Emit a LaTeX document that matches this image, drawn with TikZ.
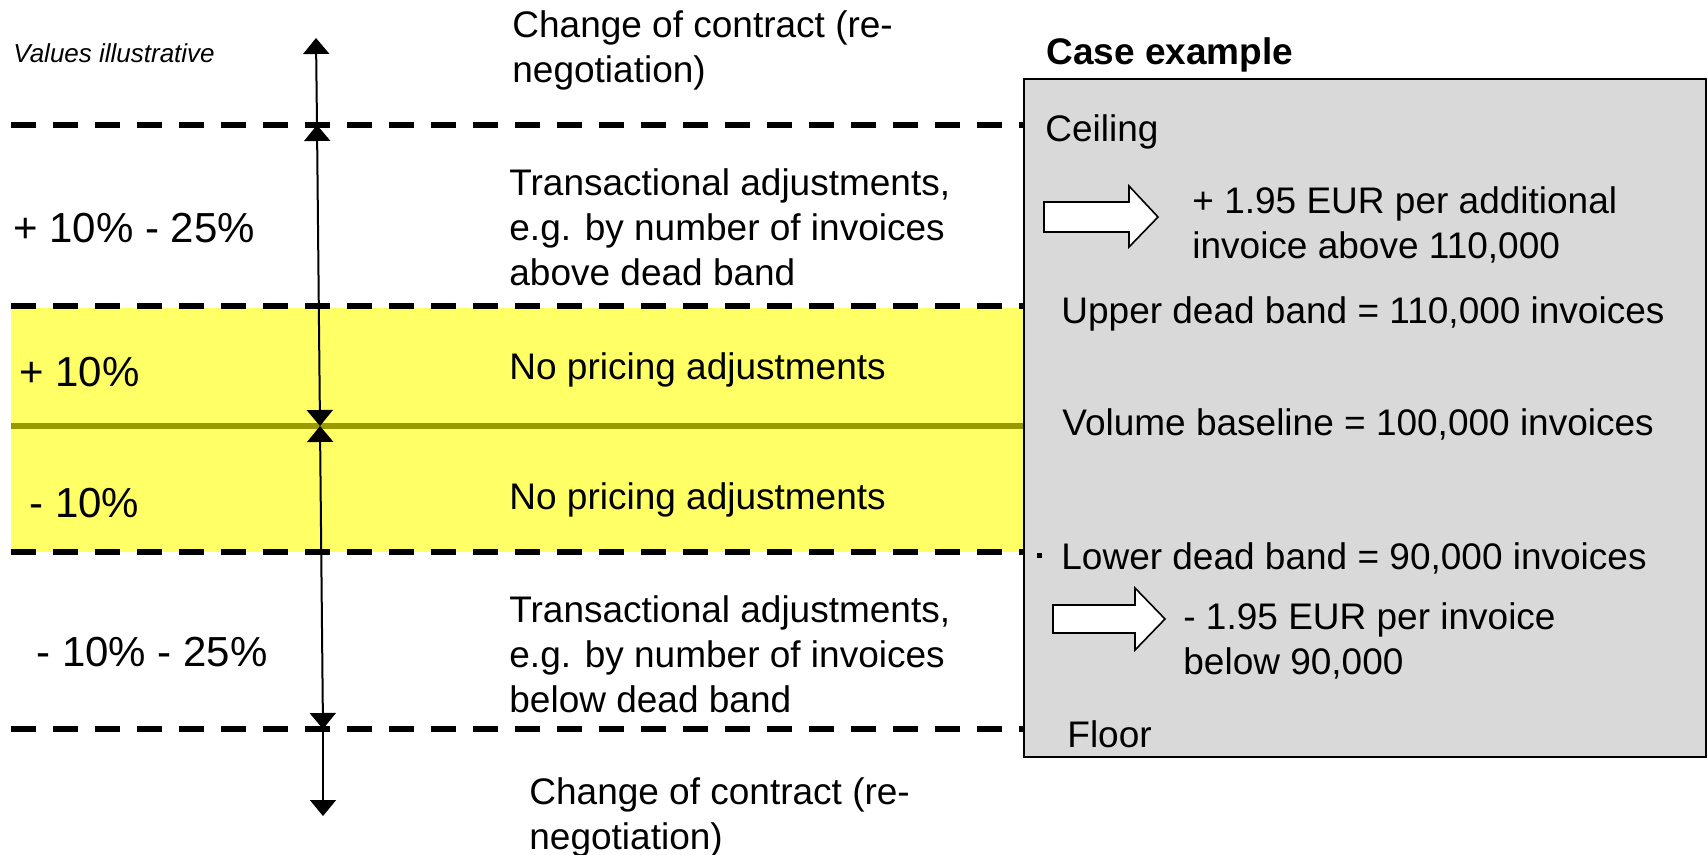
\documentclass[tikz,border=0pt]{standalone}
\usepackage{fontspec}
\setmainfont{Liberation Sans}
\usetikzlibrary{arrows.meta}

\definecolor{bandyellow}{RGB}{255,255,102}
\definecolor{baseolive}{RGB}{153,153,0}
\definecolor{casegray}{RGB}{217,217,217}

\begin{document}
\begin{tikzpicture}[x=0.5pt,y=-0.5pt,
    label text/.style={inner sep=0pt,anchor=west,align=left,font=\fontsize{18.5}{22.5}\selectfont},
    range text/.style={label text,font=\fontsize{21}{25}\selectfont},
    band line/.style={dash pattern=on 12.5pt off 8.5pt,line width=2.6pt},
    range arrow/.style={line width=1pt,{Triangle[width=13pt,length=8pt]}-{Triangle[width=13pt,length=8pt]}},
    out arrow/.style={line width=1pt,-{Triangle[width=13pt,length=8pt]}},
    block arrow/.style={draw,fill=white,line width=0.8pt}]

    \useasboundingbox (0,0) rectangle (1708,855);

    % bands
    \fill[bandyellow] (11,308) rectangle (1024,552);
    \draw[baseolive,line width=2.6pt] (11,426) -- (1024,426);
    \draw[band line] (11,125) -- (1024,125);
    \draw[band line] (11,306) -- (1024,306);
    \draw[band line] (11,552) -- (1024,552);
    \draw[band line] (11,729) -- (1024,729);

    % case example box
    \draw[fill=casegray,line width=1pt] (1024,79) rectangle (1706,757);

    % vertical scale
    \coordinate (top) at (316,38);
    \coordinate (ceil) at (317,125);
    \coordinate (mid) at (320,426);
    \coordinate (flr) at (323,729);
    \coordinate (bot) at (323,816);
    \draw[out arrow] (ceil) -- (top);
    \draw[range arrow] (ceil) -- (mid);
    \draw[range arrow] (mid) -- (flr);
    \draw[out arrow] (flr) -- (bot);

    % left labels
    \node[label text,font=\fontsize{13}{15}\selectfont\itshape] (note) at (13,53) {Values illustrative};
    \node[label text] (chg top) at (512,50) {Change of contract (re-\\negotiation)};
    \node[range text] (range up) at (13,228) {+ 10\% - 25\%};
    \node[label text] (adj up) at (509,227) {Transactional adjustments,\\e.g. by number of invoices\\above dead band};
    \node[range text] (plus) at (19,372) {+ 10\%};
    \node[label text] (none up) at (509,370) {No pricing adjustments};
    \node[range text] (minus) at (29,503) {- 10\%};
    \node[label text] (none dn) at (509,500) {No pricing adjustments};
    \node[range text] (range dn) at (36,652) {- 10\% - 25\%};
    \node[label text] (adj dn) at (509,654) {Transactional adjustments,\\e.g. by number of invoices\\below dead band};
    \node[label text] (chg bot) at (529,817) {Change of contract (re-\\negotiation)};

    % case example
    \node[label text,font=\fontsize{18.5}{22.5}\selectfont\bfseries] (case head) at (1046,55) {Case example};
    \node[label text] (ceiling) at (1045,132) {Ceiling};
    \draw[block arrow] (1044,202) -- (1129,202) -- (1129,186) -- (1158,217) -- (1129,247) -- (1129,232) -- (1044,232) -- cycle;
    \node[label text] (surcharge) at (1192,225) {+ 1.95 EUR per additional\\invoice above 110,000};
    \node[label text] (upper) at (1061,314) {Upper dead band = 110,000 invoices};
    \node[label text] (baseline) at (1062,424) {Volume baseline = 100,000 invoices};
    \fill (1037,553) rectangle (1042,558);
    \node[label text] (lower) at (1061,558) {Lower dead band = 90,000 invoices};
    \draw[block arrow] (1053,605) -- (1135,605) -- (1135,588) -- (1165,619) -- (1135,650) -- (1135,633) -- (1053,633) -- cycle;
    \node[label text] (rebate) at (1183,641) {- 1.95 EUR per invoice\\below 90,000};
    \node[label text] (floor) at (1067,734) {Floor};
\end{tikzpicture}
\end{document}
